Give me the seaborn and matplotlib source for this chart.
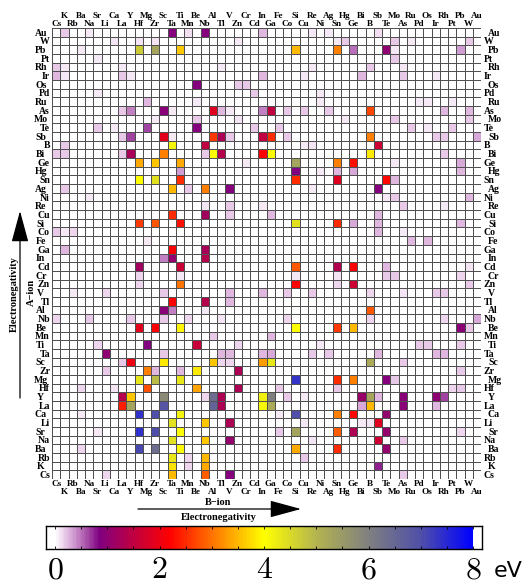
import numpy as np
import pandas as pd
import matplotlib
matplotlib.use("Agg")
import matplotlib.pyplot as plt
from matplotlib.colors import LinearSegmentedColormap
import seaborn as sns

# A-ion rows (top to bottom) and B-ion columns (left to right), ordered by electronegativity
a_ions = ["Au", "W", "Pb", "Pt", "Rh", "Ir", "Os", "Pd", "Ru", "As", "Mo", "Te", "Sb",
          "B", "Bi", "Ge", "Hg", "Sn", "Ag", "Ni", "Re", "Cu", "Si", "Co", "Fe", "Ga",
          "In", "Cd", "Cr", "Zn", "V", "Tl", "Al", "Nb", "Be", "Mn", "Ti", "Ta", "Sc",
          "Zr", "Mg", "Hf", "Y", "La", "Ca", "Li", "Sr", "Na", "Ba", "Rb", "K", "Cs"]
b_ions = ["Cs", "K", "Rb", "Ba", "Na", "Sr", "Li", "Ca", "La", "Y", "Hf", "Mg", "Zr",
          "Sc", "Ta", "Ti", "Mn", "Be", "Nb", "Al", "Tl", "V", "Zn", "Cr", "Cd", "In",
          "Ga", "Fe", "Co", "Si", "Cu", "Re", "Ni", "Ag", "Sn", "Hg", "Ge", "Bi", "B",
          "Sb", "Te", "Mo", "As", "Ru", "Pd", "Os", "Ir", "Rh", "Pt", "Pb", "W", "Au"]

# Band gaps (eV) of the A-B pairs; pairs not listed are zero
pair_a = (["Au"] * 9 + ["W"] * 9 + ["Pb"] * 10 + ["Pt"] * 2 + ["Rh"] * 7 + ["Ir"] * 9
          + ["Os"] * 3 + ["Pd"] * 3 + ["Ru"] * 6 + ["As"] * 15 + ["Mo"] * 6 + ["Te"] * 9
          + ["Sb"] * 14 + ["B"] * 6 + ["Bi"] * 12 + ["Ge"] * 9 + ["Hg"] * 6 + ["Sn"] * 7
          + ["Ag"] * 7 + ["Ni"] * 4 + ["Re"] * 5 + ["Cu"] * 5 + ["Si"] * 8 + ["Co"] * 5
          + ["Fe"] * 3 + ["Ga"] * 3 + ["In"] * 3 + ["Cd"] * 7 + ["Cr"] * 7 + ["Zn"] * 6
          + ["V"] * 11 + ["Tl"] * 3 + ["Al"] * 4 + ["Nb"] * 10 + ["Be"] * 8 + ["Mn"] * 2
          + ["Ti"] * 8 + ["Ta"] * 11 + ["Sc"] * 10 + ["Zr"] * 7 + ["Mg"] * 8 + ["Hf"] * 9
          + ["Y"] * 16 + ["La"] * 11 + ["Ca"] * 9 + ["Li"] * 7 + ["Sr"] * 10 + ["Na"] * 6
          + ["Ba"] * 7 + ["Rb"] * 4 + ["K"] * 4 + ["Cs"] * 5)
pair_b = [
    "K", "Na", "Ta", "Mn", "Nb", "In", "Re", "Ag", "Sb",                  # Au
    "Ca", "Hf", "Zr", "Zn", "Sn", "Hg", "Mo", "Ru", "W",                  # W
    "Ba", "Hf", "Zr", "Ti", "Si", "Sn", "Ge", "Te", "Mo", "Pb",           # Pb
    "Sr", "Mo",                                                           # Pt
    "Cs", "K", "La", "Tl", "Re", "B", "As",                               # Rh
    "Cs", "K", "La", "Y", "In", "Cu", "Bi", "As", "Ir",                   # Ir
    "Be", "Zn", "Cr",                                                     # Os
    "Sr", "Cd", "Ni",                                                     # Pd
    "Mg", "Be", "Ni", "Pd", "Os", "Pt",                                   # Ru
    "La", "Y", "Sc", "Ta", "Al", "Tl", "V", "In", "Ga", "Co", "Cu", "Ag",
    "B", "Rh", "W",                                                       # As
    "Zr", "Be", "Zn", "Hg", "Mo", "W",                                    # Mo
    "Sr", "Ca", "Mg", "Be", "Cd", "Fe", "Ru", "Os", "Pt",                 # Te
    "La", "Y", "Sc", "Ta", "Al", "Tl", "V", "In", "Ga", "Co", "B", "Ir",
    "Rh", "Au",                                                           # Sb
    "K", "Ta", "Nb", "Cu", "Re", "Sb",                                    # B
    "Cs", "K", "La", "Y", "Sc", "Nb", "Al", "Tl", "In", "Ga", "B", "Rh",   # Bi
    "Hf", "Zr", "Ti", "Cr", "Si", "Sn", "Ge", "Mo", "Pb",                 # Ge
    "Ti", "Si", "Ni", "Sn", "Ge", "Pb",                                   # Hg
    "Hf", "Zr", "Ti", "Si", "Sn", "Te", "Mo",                             # Sn
    "K", "Ta", "Mn", "Nb", "V", "Re", "Sb",                               # Ag
    "Na", "Te", "Mo", "W",                                                # Ni
    "Nb", "V", "In", "As", "Rh",                                          # Re
    "Ta", "Nb", "V", "Ga", "Sb",                                          # Cu
    "Hf", "Zr", "Ti", "Si", "Sn", "Ge", "Sb", "Pb",                       # Si
    "Cs", "K", "Rb", "Sb", "As",                                          # Co
    "Mg", "Ru", "Os",                                                     # Fe
    "K", "Ta", "Nb",                                                      # Ga
    "Sc", "Ta", "Nb",                                                     # In
    "Hf", "Ti", "Si", "Sn", "Ge", "Te", "W",                              # Cd
    "Hf", "Ti", "Si", "Sn", "Te", "Mo", "Pb",                             # Cr
    "Hf", "Ti", "Si", "Sn", "Ge", "W",                                    # Zn
    "Rb", "Li", "Sc", "V", "In", "Co", "Re", "B", "As", "Ir", "Rh",       # V
    "Ta", "Nb", "V",                                                      # Tl
    "Sc", "Ta", "Nb", "B",                                                # Al
    "Cs", "Na", "Y", "Sc", "Mn", "Tl", "Co", "B", "Rh", "Au",             # Nb
    "Hf", "Zr", "Ti", "Si", "Sn", "Ge", "Pb", "W",                        # Be
    "Al", "Ga",                                                           # Mn
    "Sr", "Mg", "Be", "Zn", "Ni", "Pd", "Os", "Pb",                       # Ti
    "Li", "Sc", "Tl", "V", "In", "Ga", "Re", "Ag", "Sb", "Ir", "Rh",      # Ta
    "La", "Y", "Sc", "Al", "Tl", "V", "In", "Ga", "B", "As",              # Sc
    "Li", "Mg", "Zr", "Ti", "Be", "Zn", "Pb",                             # Zr
    "Hf", "Zr", "Ti", "Si", "Sn", "Ge", "Te", "Mo",                       # Mg
    "Ba", "Ca", "Mg", "Be", "Zn", "Fe", "Sn", "Pt", "Pb",                 # Hf
    "La", "Y", "Sc", "Nb", "Al", "Tl", "In", "Ga", "Co", "Cu", "Bi", "B",
    "Sb", "As", "Ir", "Rh",                                               # Y
    "La", "Y", "Sc", "Al", "Tl", "In", "Ga", "Bi", "B", "As", "Ir",       # La
    "Ba", "Hf", "Zr", "Ti", "Fe", "Si", "Sn", "Ge", "Te",                 # Ca
    "Ta", "Nb", "V", "Cu", "Bi", "B", "Sb",                               # Li
    "Sr", "Hf", "Zr", "Ti", "Fe", "Si", "Sn", "Ge", "Te", "Pb",           # Sr
    "Ta", "Nb", "V", "Re", "Sb", "As",                                    # Na
    "Ba", "Hf", "Zr", "Ti", "Si", "Sn", "Te",                             # Ba
    "Mn", "Ta", "Nb", "Cu",                                               # Rb
    "Mn", "Ta", "Nb", "Sb",                                               # K
    "Li", "Ta", "Nb", "V", "As",                                          # Cs
]
pair_ev = [
    0.2, 0.08, 0.9, 0.12, 0.9, 0.25, 0.08, 0.08, 0.12,                    # Au
    0.1, 0.1, 0.1, 0.08, 0.08, 0.2, 0.2, 0.08, 0.2,                       # W
    0.08, 4.7, 5.3, 3.6, 3.5, 3.1, 0.5, 1.0, 0.08, 0.35,                  # Pb
    0.08, 0.2,                                                            # Pt
    0.2, 0.08, 0.08, 0.08, 0.08, 0.2, 0.08,                               # Rh
    0.25, 0.08, 0.2, 0.08, 0.25, 0.08, 0.25, 0.2, 0.08,                   # Ir
    0.9, 0.2, 0.2,                                                        # Os
    0.08, 0.2, 0.08,                                                      # Pd
    0.25, 0.08, 0.08, 0.08, 0.08, 0.08,                                   # Ru
    0.2, 0.45, 0.95, 0.08, 1.85, 0.25, 0.08, 0.45, 1.5, 0.2, 0.2, 0.2,
    2.7, 0.25, 0.25,                                                      # As
    0.08, 0.2, 0.1, 0.08, 0.2, 0.2,                                       # Mo
    0.2, 0.08, 0.65, 0.9, 0.2, 0.2, 0.2, 0.08, 0.2,                       # Te
    0.2, 0.65, 1.9, 0.08, 2.6, 1.3, 0.2, 1.5, 2.5, 0.2, 3.1, 0.2,
    0.2, 0.3,                                                             # Sb
    0.2, 4.1, 1.5, 0.08, 0.1, 1.65,                                       # B
    0.2, 0.2, 0.2, 1.25, 3.1, 0.2, 4.0, 1.4, 2.2, 4.0, 3.85, 0.2,         # Bi
    3.4, 3.6, 3.4, 0.08, 5.3, 3.1, 2.3, 0.08, 0.3,                        # Ge
    0.35, 0.85, 0.08, 0.25, 0.3, 0.25,                                    # Hg
    4.0, 4.4, 2.5, 2.5, 1.85, 2.25, 0.25,                                 # Sn
    0.2, 3.5, 0.2, 3.1, 0.9, 0.08, 0.9,                                   # Ag
    0.08, 0.08, 0.2, 0.25,                                                # Ni
    0.1, 0.2, 0.08, 0.2, 0.08,                                            # Re
    2.5, 1.2, 0.2, 0.25, 0.25,                                            # Cu
    2.6, 2.8, 2.3, 4.4, 2.5, 0.3, 0.25, 0.25,                             # Si
    0.2, 0.08, 0.15, 0.25, 0.08,                                          # Co
    0.08, 0.25, 0.25,                                                     # Fe
    0.25, 2.2, 1.25,                                                      # Ga
    0.45, 1.05, 1.4,                                                      # In
    1.2, 1.6, 2.8, 1.35, 2.2, 0.25, 0.1,                                  # Cd
    0.15, 0.08, 0.08, 0.1, 0.2, 0.2, 0.15,                                # Cr
    0.15, 3.0, 2.2, 0.15, 1.65, 0.2,                                      # Zn
    0.08, 0.15, 0.2, 0.25, 0.25, 0.2, 0.2, 0.15, 0.1, 0.2, 0.2,           # V
    2.2, 1.4, 0.25,                                                       # Tl
    0.95, 0.45, 0.08, 2.8,                                                # Al
    0.15, 0.2, 0.2, 0.2, 0.15, 0.1, 0.15, 0.15, 0.15, 0.3,                # Nb
    1.9, 2.2, 3.95, 4.0, 2.6, 3.5, 0.95, 0.2,                             # Be
    0.2, 0.25,                                                            # Mn
    0.15, 0.85, 1.6, 0.15, 0.08, 0.2, 0.2, 0.2,                           # Ti
    1.0, 0.2, 0.25, 0.25, 0.25, 0.3, 0.2, 0.2, 0.25, 0.25, 0.25,          # Ta
    0.2, 2.0, 3.85, 3.6, 0.15, 0.15, 3.3, 4.3, 5.2, 0.2,                  # Sc
    0.2, 3.1, 0.25, 0.25, 3.85, 1.3, 0.2,                                 # Zr
    4.3, 4.9, 4.3, 7.35, 2.5, 3.1, 0.9, 0.2,                              # Mg
    0.15, 0.1, 2.75, 3.35, 1.3, 0.2, 0.2, 0.15, 0.2,                      # Hf
    1.4, 3.6, 5.8, 0.15, 6.4, 1.3, 4.2, 6.0, 0.2, 0.08, 1.1, 5.3,
    0.25, 0.95, 1.0, 0.65,                                                # Y
    2.4, 5.3, 6.9, 6.6, 1.3, 4.1, 5.2, 0.3, 3.5, 0.95, 0.25,              # La
    0.08, 7.4, 7.0, 4.15, 0.08, 7.0, 3.1, 2.25, 1.05,                     # Ca
    4.4, 3.6, 1.3, 0.08, 0.08, 0.1, 1.85,                                 # Li
    0.08, 7.4, 7.0, 4.0, 0.2, 5.3, 2.85, 1.3, 1.05, 0.15,                 # Sr
    4.4, 3.6, 1.05, 0.1, 1.65, 0.2,                                       # Na
    0.15, 7.1, 6.4, 4.0, 3.4, 2.5, 1.05,                                  # Ba
    0.15, 4.3, 3.5, 0.2,                                                  # Rb
    0.15, 3.8, 3.4, 0.75,                                                 # K
    0.15, 3.5, 2.85, 0.9, 0.2,                                            # Cs
]

# colour scale 0-8 eV: white -> lavender -> purple -> crimson -> red -> orange
# -> yellow -> olive -> grey -> slate -> blue
gap_stops = [0.0, 0.1, 0.2, 0.35, 0.55, 0.85, 1.5, 2.2, 3.1, 4.0, 5.0, 6.0, 7.0, 8.0]
gap_colors = ["#ffffff", "#f3e3f3", "#e6c6e6", "#d09ad0", "#b060b0", "#800080",
              "#c00040", "#ff0000", "#ff8000", "#ffff00", "#b4b450", "#808080",
              "#5050a8", "#0000ff"]
cmap = LinearSegmentedColormap.from_list(
    "gap", list(zip([s / 8.0 for s in gap_stops], gap_colors)), N=512)

gaps = pd.DataFrame(0.0, index=a_ions, columns=b_ions)
for a, b, v in zip(pair_a, pair_b, pair_ev):
    gaps.loc[a, b] = v

plt.rcParams["mathtext.fontset"] = "cm"
W, H = 528, 586
fig = plt.figure(figsize=(W / 100, H / 100), dpi=100)
fig.patch.set_facecolor("white")

gx0, gx1, gy0, gy1 = 52, 481, 28, 479
ax = fig.add_axes([gx0 / W, 1 - gy1 / H, (gx1 - gx0) / W, (gy1 - gy0) / H])
sns.heatmap(gaps, cmap=cmap, vmin=0, vmax=8, cbar=False, linewidths=0.6,
            linecolor="#505050", xticklabels=False, yticklabels=False, ax=ax)
ax.set_xlabel("")
ax.set_ylabel("")
ax.tick_params(left=False, bottom=False)

col_lab = dict(family="Liberation Serif", weight="bold", fontsize=6.6)
row_lab = dict(family="Liberation Serif", weight="bold", fontsize=7.0)
ah = gy1 - gy0
aw = gx1 - gx0
xt = ax.get_xaxis_transform()
yt = ax.get_yaxis_transform()
for j, b in enumerate(b_ions):
    odd = j % 2 == 1
    top_y = (gy1 - (18.5 if odd else 26.0)) / ah
    bot_y = (gy1 - (493.5 if odd else 486.5)) / ah
    ax.text(j + 0.5, top_y, b, transform=xt, ha="center", va="baseline", **col_lab)
    ax.text(j + 0.5, bot_y, b, transform=xt, ha="center", va="baseline", **col_lab)
for i, a in enumerate(a_ions):
    yb = i + 0.89
    if i % 2 == 0:
        ax.text((40.8 - gx0) / aw, yb, a, transform=yt, ha="center", va="baseline", **row_lab)
        ax.text((488 - gx0) / aw, yb, a, transform=yt, ha="left", va="baseline", **row_lab)
    else:
        ax.text((50 - gx0) / aw, yb, a, transform=yt, ha="right", va="baseline", **row_lab)
        ax.text((483.5 - gx0) / aw, yb, a, transform=yt, ha="left", va="baseline", **row_lab)

# axis captions with electronegativity arrows
cap = dict(family="Liberation Serif", weight="bold", fontsize=7.5)
fig.text(218 / W, 1 - 505 / H, "B\u2212ion", ha="center", va="baseline", **cap)
fig.text(219 / W, 1 - 519.5 / H, "Electronegativity", ha="center", va="baseline", **cap)
fig.text(31 / W, 1 - 292 / H, "A\u2212ion", ha="center", va="center", rotation=90, **cap)
fig.text(14 / W, 1 - 294 / H, "Electronegativity", ha="center", va="center",
         rotation=90, **cap)
arrow = dict(arrowstyle="-|>,head_length=1.4,head_width=0.38", color="black",
             lw=0.9, shrinkA=0, shrinkB=0, mutation_scale=14)
ax.annotate("", xy=(301, H - 509), xytext=(138, H - 509), xycoords="figure pixels",
            textcoords="figure pixels", arrowprops=arrow, annotation_clip=False)
ax.annotate("", xy=(20, H - 211), xytext=(20, H - 398), xycoords="figure pixels",
            textcoords="figure pixels", arrowprops=arrow, annotation_clip=False)

# colour bar
cx0, cx1, cy0, cy1 = 46, 482, 526, 549
cax = fig.add_axes([cx0 / W, 1 - cy1 / H, (cx1 - cx0) / W, (cy1 - cy0) / H])
edges = np.linspace(0, 8, 321)
centers = 0.5 * (edges[:-1] + edges[1:])
cax.pcolormesh(edges, [0, 1], centers[None, :], cmap=cmap, vmin=0, vmax=8)
px_per_ev = (473 - 55) / 8
cax.set_xlim(-(55 - cx0) / px_per_ev, 8 + (cx1 - 473) / px_per_ev)
cax.set_ylim(0, 1)
cax.set_yticks([])
cax.set_xticks(np.arange(0, 8.01, 0.5))
cax.tick_params(axis="x", direction="in", top=True, bottom=True, length=2.5,
                width=0.6, labelbottom=False)
for s in cax.spines.values():
    s.set_linewidth(1.0)
for v in [0, 2, 4, 6, 8]:
    cax.text(v, (cy1 - 570) / (cy1 - cy0), f"${v}$", transform=cax.get_xaxis_transform(),
             ha="center", va="center", fontsize=23, clip_on=False)
fig.text(494 / W, 1 - 571 / H, "eV", ha="left", va="center", fontsize=16,
         family="DejaVu Sans")

fig.savefig("out.png", dpi=100)
